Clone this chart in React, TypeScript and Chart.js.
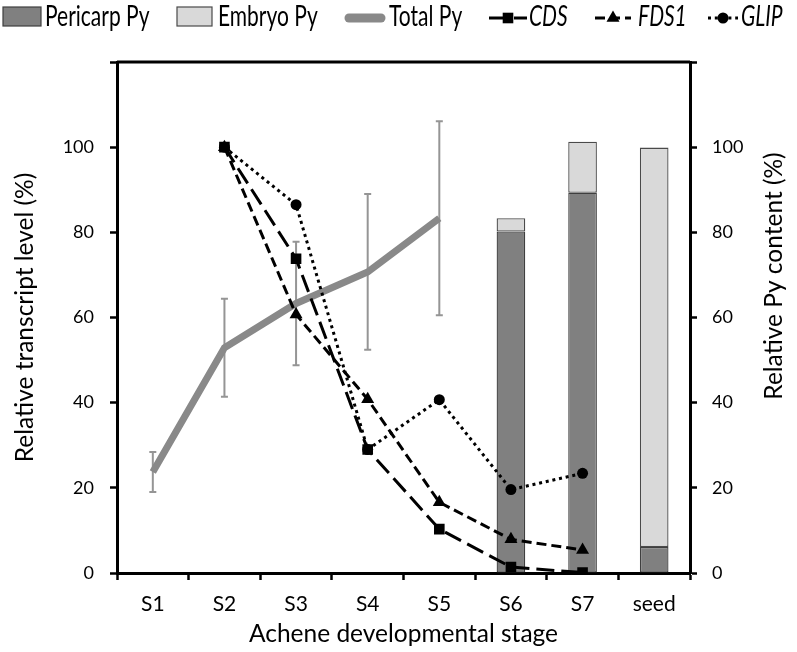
import React, { useEffect, useRef } from "react";
import { Chart, registerables } from "chart.js";

Chart.register(...registerables);

const FONT = "Lato, 'DejaVu Sans', sans-serif";

// ---------- data ----------
const stages = ["S1", "S2", "S3", "S4", "S5", "S6", "S7", "seed"];
const pericarpPy = [null, null, null, null, null, 80.2, 89.3, 6.1];
const embryoPy = [null, null, null, null, null, 3.1, 12.0, 93.8];
const totalPy = [23.7, 52.9, 63.3, 70.7, 83.3, null, null, null];
const totalPyErr = [4.7, 11.5, 14.5, 18.3, 22.8, null, null, null];
const cds = [null, 100, 73.8, 29.0, 10.3, 1.4, 0.1, null];
const fds1 = [null, 100, 60.7, 40.8, 16.6, 7.9, 5.4, null];
const glip = [null, 100, 86.5, 29.0, 40.7, 19.6, 23.4, null];
const yMax = 120;
const yStep = 20;

const leftTitle = "Relative transcript level (%)";
const rightTitle = "Relative Py content (%)";
const xTitle = "Achene developmental stage";

// ---------- plugins ----------
const errorBarPlugin = {
  id: "errorBars",
  beforeDatasetDraw(chart: any, args: any) {
    const ds = chart.data.datasets[args.index];
    if (!ds.errors) return;
    const meta = chart.getDatasetMeta(args.index);
    const yScale = chart.scales[ds.yAxisID];
    const ctx = chart.ctx;
    ctx.save();
    ctx.strokeStyle = "#959595";
    ctx.lineWidth = 2;
    meta.data.forEach((el: any, i: number) => {
      const v = ds.data[i];
      const e = ds.errors[i];
      if (v == null || e == null) return;
      const x = el.x;
      const yt = yScale.getPixelForValue(v + e);
      const yb = yScale.getPixelForValue(v - e);
      ctx.beginPath();
      ctx.moveTo(x, yt);
      ctx.lineTo(x, yb);
      ctx.moveTo(x - 3.5, yt);
      ctx.lineTo(x + 3.5, yt);
      ctx.moveTo(x - 3.5, yb);
      ctx.lineTo(x + 3.5, yb);
      ctx.stroke();
    });
    ctx.restore();
  },
};

function drawMarker(ctx: CanvasRenderingContext2D, style: string, x: number, y: number, r: number) {
  ctx.beginPath();
  if (style === "rect") {
    const s = r * Math.SQRT1_2;
    ctx.rect(x - s, y - s, 2 * s, 2 * s);
  } else if (style === "triangle") {
    ctx.moveTo(x, y - r);
    ctx.lineTo(x + r * 0.866, y + r * 0.5);
    ctx.lineTo(x - r * 0.866, y + r * 0.5);
    ctx.closePath();
  } else {
    ctx.arc(x, y, r, 0, Math.PI * 2);
  }
  ctx.fill();
}

const legendLayout = [
  { x1: 3, x2: 41, tx: 45 },
  { x1: 177, x2: 212, tx: 218 },
  { x1: 345, x2: 385, tx: 389 },
  { x1: 489, x2: 527, tx: 529 },
  { x1: 595, x2: 631, tx: 638 },
  { x1: 708, x2: 738, tx: 741 },
];

const decorPlugin = {
  id: "decor",
  afterDraw(chart: any) {
    const ctx: CanvasRenderingContext2D = chart.ctx;
    const ca = chart.chartArea;
    ctx.save();
    // top frame line
    ctx.strokeStyle = "#000";
    ctx.lineWidth = 3;
    ctx.beginPath();
    ctx.moveTo(ca.left, ca.top);
    ctx.lineTo(ca.right, ca.top);
    ctx.stroke();

    // axis titles
    ctx.fillStyle = "#000";
    ctx.font = `24.5px ${FONT}`;
    ctx.textAlign = "center";
    ctx.textBaseline = "alphabetic";
    ctx.save();
    ctx.translate(33, (ca.top + ca.bottom) / 2);
    ctx.rotate(-Math.PI / 2);
    ctx.fillText(leftTitle, 0, 0);
    ctx.restore();
    ctx.save();
    ctx.translate(782, 276);
    ctx.rotate(-Math.PI / 2);
    ctx.fillText(rightTitle, 0, 0);
    ctx.restore();
    ctx.fillText(xTitle, (ca.left + ca.right) / 2, 642);

    // legend
    const baseY = 26;
    const midY = 17;
    chart.data.datasets.forEach((ds: any, i: number) => {
      const L = legendLayout[i];
      ctx.save();
      if (ds.type === "bar") {
        ctx.fillStyle = ds.backgroundColor;
        ctx.fillRect(L.x1, 7, L.x2 - L.x1, 19);
        ctx.strokeStyle = ds.borderColor;
        ctx.lineWidth = 1.2;
        ctx.strokeRect(L.x1, 7, L.x2 - L.x1, 19);
      } else if (ds.errors) {
        ctx.strokeStyle = ds.borderColor;
        ctx.lineWidth = 9;
        ctx.lineCap = "round";
        ctx.beginPath();
        ctx.moveTo(L.x1 + 4, midY + 1);
        ctx.lineTo(L.x2 - 4, midY + 1);
        ctx.stroke();
      } else {
        ctx.strokeStyle = ds.borderColor;
        ctx.lineWidth = 3;
        ctx.setLineDash(ds.borderDash);
        ctx.beginPath();
        ctx.moveTo(L.x1, midY + 1);
        ctx.lineTo(L.x2, midY + 1);
        ctx.stroke();
        ctx.setLineDash([]);
        ctx.fillStyle = ds.pointBackgroundColor;
        drawMarker(ctx, ds.pointStyle, (L.x1 + L.x2) / 2, midY + 1, ds.pointRadius);
      }
      ctx.restore();
      ctx.save();
      ctx.fillStyle = "#000";
      ctx.translate(L.tx, baseY);
      ctx.scale(0.75, 1);
      ctx.font = `${ds.italic ? "italic " : ""}28px ${FONT}`;
      ctx.textAlign = "left";
      ctx.textBaseline = "alphabetic";
      ctx.fillText(ds.label, 0, 0);
      ctx.restore();
    });
    ctx.restore();
  },
};

export default function App() {
  const ref = useRef<HTMLCanvasElement>(null);
  useEffect(() => {
    const canvas = ref.current!;
    const axisGrid = {
      drawOnChartArea: false,
      drawTicks: true,
      tickLength: 7,
      tickColor: "#000",
      tickWidth: 2.5,
      color: "#000",
    };
    const chart = new Chart(canvas, {
      type: "bar",
      data: {
        labels: stages,
        datasets: [
          {
            type: "bar",
            label: "Pericarp Py",
            data: pericarpPy,
            yAxisID: "y2",
            stack: "py",
            backgroundColor: "#808080",
            borderColor: "#3f3f3f",
            borderWidth: 1.3,
            borderSkipped: false,
            barPercentage: 0.4,
            categoryPercentage: 1,
            order: 10,
          },
          {
            type: "bar",
            label: "Embryo Py",
            data: embryoPy,
            yAxisID: "y2",
            stack: "py",
            backgroundColor: "#d9d9d9",
            borderColor: "#4a4a4a",
            borderWidth: 1.3,
            borderSkipped: false,
            barPercentage: 0.4,
            categoryPercentage: 1,
            order: 10,
          },
          {
            type: "line",
            label: "Total Py",
            data: totalPy,
            errors: totalPyErr,
            yAxisID: "y",
            borderColor: "#898989",
            borderWidth: 7,
            pointRadius: 0,
            tension: 0,
            fill: false,
            borderJoinStyle: "miter",
            order: 5,
          },
          {
            type: "line",
            label: "CDS",
            italic: true,
            data: cds,
            yAxisID: "y",
            borderColor: "#000",
            borderWidth: 3,
            borderDash: [18, 7],
            pointStyle: "rect",
            pointRadius: 7.5,
            pointBackgroundColor: "#000",
            pointBorderColor: "#000",
            pointBorderWidth: 0,
            tension: 0,
            fill: false,
            order: 3,
          },
          {
            type: "line",
            label: "FDS1",
            italic: true,
            data: fds1,
            yAxisID: "y",
            borderColor: "#000",
            borderWidth: 3,
            borderDash: [10, 5],
            pointStyle: "triangle",
            pointRadius: 7.5,
            pointBackgroundColor: "#000",
            pointBorderColor: "#000",
            pointBorderWidth: 0,
            tension: 0,
            fill: false,
            order: 2,
          },
          {
            type: "line",
            label: "GLIP",
            italic: true,
            data: glip,
            yAxisID: "y",
            borderColor: "#000",
            borderWidth: 3,
            borderDash: [3, 3.8],
            pointStyle: "circle",
            pointRadius: 5.5,
            pointBackgroundColor: "#000",
            pointBorderColor: "#000",
            pointBorderWidth: 0,
            tension: 0,
            fill: false,
            order: 1,
          },
        ] as any,
      },
      options: {
        responsive: false,
        animation: false,
        layout: { padding: { top: 62, left: 0, right: 0, bottom: 0 } },
        plugins: {
          legend: { display: false },
          tooltip: { enabled: false },
          title: { display: false },
        },
        scales: {
          x: {
            type: "category",
            offset: true,
            grid: { ...axisGrid, offset: true },
            border: { display: true, color: "#000", width: 3 },
            ticks: { color: "#000", font: { family: FONT, size: 21 }, padding: 12, maxRotation: 0 },
            afterFit: (s: any) => {
              s.height = 79;
            },
          },
          y: {
            position: "left",
            min: 0,
            max: yMax,
            grid: axisGrid,
            border: { display: true, color: "#000", width: 3 },
            ticks: {
              stepSize: yStep,
              color: "#000",
              font: { family: FONT, size: 18 },
              padding: 16,
              callback: (v: any) => (v === yMax ? "" : v),
            },
            afterFit: (s: any) => {
              s.width = 117;
            },
          },
          y2: {
            position: "right",
            min: 0,
            max: yMax,
            stacked: true,
            grid: axisGrid,
            border: { display: true, color: "#000", width: 3 },
            ticks: {
              stepSize: yStep,
              color: "#000",
              font: { family: FONT, size: 18 },
              padding: 15,
              callback: (v: any) => (v === yMax ? "" : v),
            },
            afterFit: (s: any) => {
              s.width = 107;
            },
          },
        },
      } as any,
      plugins: [errorBarPlugin, decorPlugin],
    });
    return () => chart.destroy();
  }, []);
  return (
    <canvas
      ref={ref}
      width={797}
      height={652}
      style={{ position: "absolute", left: 0, top: 0, width: 797, height: 652, display: "block" }}
    />
  );
}
